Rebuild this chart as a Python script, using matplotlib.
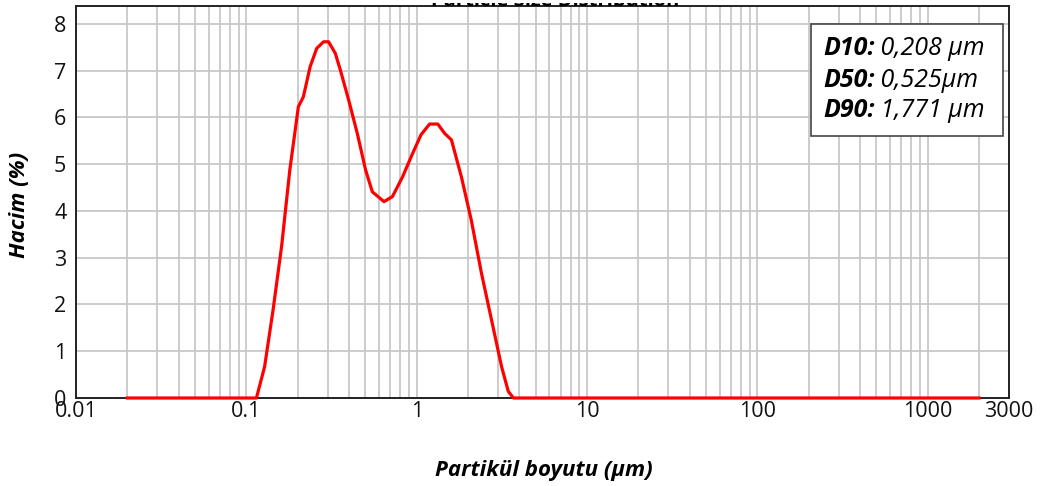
import matplotlib
matplotlib.use("Agg")
import matplotlib.pyplot as plt
from matplotlib.patches import Rectangle
from matplotlib.ticker import FixedLocator, NullFormatter
from matplotlib.transforms import Bbox, TransformedBbox

plt.rcParams['font.family'] = ['Open Sans', 'DejaVu Sans']

# Particle size distribution
boyut = [0.02, 0.1146, 0.128, 0.1436, 0.161, 0.180, 0.202, 0.216, 0.237, 0.259,
         0.284, 0.304, 0.333, 0.356, 0.399, 0.448, 0.501, 0.549, 0.643, 0.721,
         0.826, 0.946, 1.06, 1.19, 1.33, 1.46, 1.60, 1.83, 2.09, 2.40,
         2.75, 3.15, 3.45, 3.70, 2000]
hacim = [0.0, 0.0, 0.67, 1.89, 3.24, 4.88, 6.23, 6.44, 7.09, 7.48,
         7.62, 7.62, 7.37, 7.02, 6.37, 5.66, 4.88, 4.41, 4.20, 4.31,
         4.73, 5.23, 5.63, 5.86, 5.86, 5.66, 5.52, 4.73, 3.81, 2.67,
         1.67, 0.67, 0.14, 0.0, 0.0]

x_ticks = [0.01, 0.1, 1, 10, 100, 1000, 3000]
x_tick_labels = ['0.01', '0.1', '1', '10', '100', '1000', '3000']
y_ticks = [0, 1, 2, 3, 4, 5, 6, 7, 8]

d_etiket = ['D10:', 'D50:', 'D90:']
d_deger = [' 0,208 µm', ' 0,525µm', ' 1,771 µm']

W, H = 1043, 486
fig = plt.figure(figsize=(W / 100, H / 100), dpi=100)
ax = fig.add_axes([76/W, 1 - 398/H, (1009 - 76)/W, (398 - 6)/H])

ax.plot(boyut, hacim, color='#ff0000', linewidth=2.3, clip_on=False, zorder=4)

ax.set_xscale('log')
ax.set_xlim(0.01, 3000)
ax.set_ylim(0, 8.385)

ax.set_xticks(x_ticks)
ax.set_xticklabels(x_tick_labels)
minors = [m * 10.0**e for e in range(-2, 4) for m in range(2, 10) if m * 10.0**e < 3000]
ax.xaxis.set_minor_locator(FixedLocator(minors))
ax.xaxis.set_minor_formatter(NullFormatter())
ax.set_yticks(y_ticks)

ax.grid(True, which='both', axis='x', color='#c8c8c8', linewidth=1.3)
ax.grid(True, which='major', axis='y', color='#c8c8c8', linewidth=1.3)
ax.set_axisbelow(True)

ax.tick_params(axis='both', which='both', length=0, labelsize=15.5, colors='#111111')
ax.tick_params(axis='x', pad=2)
ax.tick_params(axis='y', pad=7)

for s in ax.spines.values():
    s.set_color('#222222')
    s.set_linewidth(1.4)

ax.set_ylabel('Hacim (%)', fontsize=16, fontweight='bold', style='italic')
ax.yaxis.label.set_va('center')
ax.yaxis.set_label_coords((20 - 76) / 933, (398 - 205) / 392)
ax.set_xlabel('Partikül boyutu (µm)', fontsize=16, fontweight='bold', style='italic')
ax.xaxis.label.set_va('baseline')
ax.xaxis.set_label_coords((544 - 76) / 933, -(476 - 398) / 392)

# D values box
ax.add_patch(Rectangle((811/W, 1 - 136/H), (1003 - 811)/W, (136 - 24)/H,
                       transform=fig.transFigure, facecolor='white', edgecolor='#444444',
                       linewidth=1.2, zorder=5, clip_on=False))
satir_y = [55, 87, 117]
for i in range(3):
    t = ax.text(823/W, 1 - satir_y[i]/H, d_etiket[i], transform=fig.transFigure,
                fontsize=18, fontweight='bold', style='italic', va='baseline',
                ha='left', zorder=6, clip_on=False)
    ax.annotate(d_deger[i], xy=(1, 0), xycoords=t, va='bottom', ha='left',
                fontsize=18, style='italic', zorder=6, annotation_clip=False)

# title of the original chart, cut off at the top edge
baslik = fig.text(555/W, 1 - 6.5/H, 'Particle Size Distribution', fontsize=14.5,
                  fontweight='bold', ha='center', va='baseline')
baslik.set_clip_box(TransformedBbox(Bbox.from_extents(0, 0, 1, 1 - 3.4/H), fig.transFigure))

fig.savefig('out.png', dpi=100)
